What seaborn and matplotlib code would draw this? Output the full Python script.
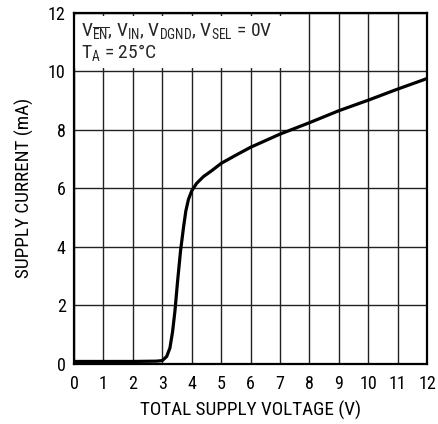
import pandas as pd
import seaborn as sns
import matplotlib
matplotlib.use('Agg')
import matplotlib.pyplot as plt

# supply current vs total supply voltage
voltage = [0.0, 1.0, 2.0, 2.8, 3.0, 3.15, 3.26, 3.35, 3.43, 3.52, 3.62, 3.72, 3.8, 3.89,
           4.0, 4.17, 4.4, 4.68, 5.0, 5.5, 6.0, 7.0, 8.0, 9.0, 10.0, 11.0, 12.0]
current = [0.08, 0.08, 0.08, 0.09, 0.11, 0.25, 0.54, 1.1, 1.8, 2.82, 3.85, 4.65, 5.22, 5.62,
           5.91, 6.17, 6.4, 6.6, 6.85, 7.13, 7.4, 7.85, 8.24, 8.65, 9.01, 9.39, 9.75]
x_ticks = list(range(0, 13))
y_ticks = list(range(0, 13, 2))

sns.set_theme(style="white")
font = 'Roboto Condensed'
plt.rcParams['font.family'] = [font, 'DejaVu Sans']
plt.rcParams['mathtext.fontset'] = 'custom'
plt.rcParams['mathtext.rm'] = font
plt.rcParams['mathtext.it'] = font
plt.rcParams['mathtext.default'] = 'regular'

df = pd.DataFrame({'v': voltage, 'i': current})

fig = plt.figure(figsize=(4.38, 4.24), dpi=100)
ax = fig.add_axes([0.169, 0.142, 0.806, 0.828])

ax.set_xlim(0, 12)
ax.set_ylim(0, 12)
ax.set_xticks(x_ticks)
ax.set_yticks(y_ticks)
ax.grid(True, color='#222222', linewidth=1.0)
ax.set_axisbelow(True)

# white box hides grid behind the condition text
ax.add_patch(plt.Rectangle((0.04, 10.12), 7.08, 1.76, facecolor='white',
                           edgecolor='none', zorder=1.5))

sns.lineplot(data=df, x='v', y='i', ax=ax, color='black', linewidth=2.3, zorder=3)

for s in ax.spines.values():
    s.set_color('black')
    s.set_linewidth(1.6)

ax.tick_params(axis='both', length=0, labelsize=13, colors='black')
ax.tick_params(axis='x', pad=8)
ax.tick_params(axis='y', pad=6)
ax.set_xlabel('TOTAL SUPPLY VOLTAGE (V)', fontsize=13.8, color='black', labelpad=6)
ax.set_ylabel('SUPPLY CURRENT (mA)', fontsize=13.8, color='black', labelpad=10)

ax.text(0.25, 11.72, r'V$_{\overline{EN}}$, V$_{IN}$, V$_{DGND}$, V$_{SEL}$ = 0V' '\n'
        r'T$_{A}$ = 25°C', fontsize=14, va='top', ha='left', zorder=4,
        linespacing=1.0)

plt.savefig('out.png', dpi=100)
